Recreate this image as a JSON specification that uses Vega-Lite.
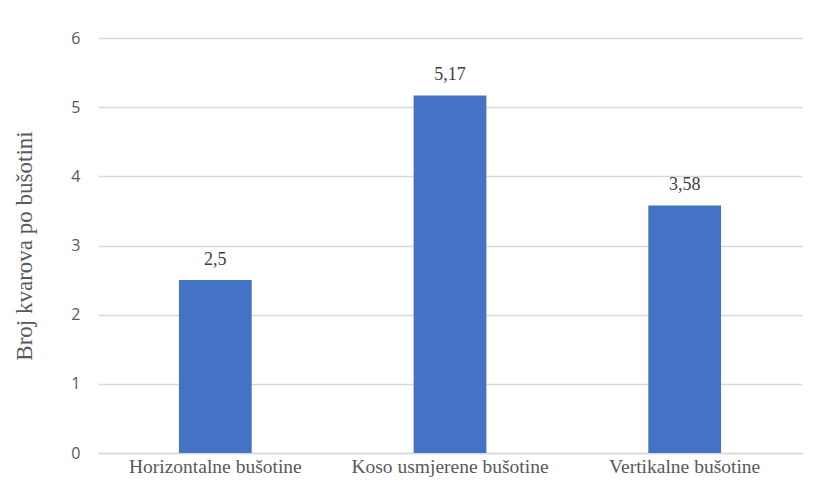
{
  "$schema": "https://vega.github.io/schema/vega-lite/v6.json",
  "width": 704,
  "height": 415,
  "autosize": "none",
  "padding": {"left": 98, "top": 38, "right": 12, "bottom": 42},
  "background": "white",
  "config": {"view": {"stroke": null}},
  "data": {
    "values": [
      {"tip": "Horizontalne bušotine", "broj": 2.5, "oznaka": "2,5"},
      {"tip": "Koso usmjerene bušotine", "broj": 5.17, "oznaka": "5,17"},
      {"tip": "Vertikalne bušotine", "broj": 3.58, "oznaka": "3,58"}
    ]
  },
  "encoding": {
    "x": {
      "field": "tip",
      "type": "nominal",
      "sort": null,
      "scale": {"paddingInner": 0.69, "paddingOuter": 0.345},
      "axis": {
        "title": null,
        "labelAngle": 0,
        "labelFont": "Liberation Serif, DejaVu Serif, serif",
        "labelFontSize": 19.5,
        "labelColor": "#595959",
        "labelPadding": 4,
        "labelLimit": 400,
        "ticks": false,
        "domainColor": "#d9d9d9",
        "domainWidth": 1.5
      }
    },
    "y": {
      "field": "broj",
      "type": "quantitative",
      "scale": {"domain": [0, 6]},
      "axis": {
        "title": "Broj kvarova po bušotini",
        "titleFont": "Liberation Serif, DejaVu Serif, serif",
        "titleFontSize": 23,
        "titleFontWeight": "normal",
        "titleColor": "#595959",
        "titlePadding": 34,
        "values": [0, 1, 2, 3, 4, 5, 6],
        "labelFont": "Open Sans",
        "labelFontSize": 16,
        "labelColor": "#595959",
        "labelPadding": 18,
        "ticks": false,
        "domain": false,
        "gridColor": "#d9d9d9",
        "gridWidth": 1.5
      }
    }
  },
  "layer": [
    {"mark": {"type": "bar", "color": "#4472C4"}},
    {
      "mark": {
        "type": "text",
        "baseline": "alphabetic",
        "dy": -15,
        "font": "Liberation Serif, DejaVu Serif, serif",
        "fontSize": 18,
        "color": "#404040"
      },
      "encoding": {"text": {"field": "oznaka"}}
    }
  ]
}
